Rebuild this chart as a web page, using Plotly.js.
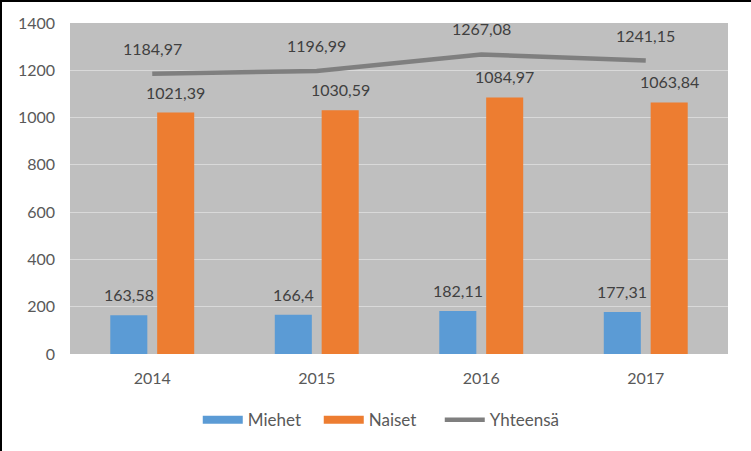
<!DOCTYPE html>
<html>
<head>
<meta charset="utf-8">
<script src="https://cdn.plot.ly/plotly-3.0.1.min.js"></script>
<style>
  html, body { margin: 0; padding: 0; background: #fff; }
  #chart { width: 749px; height: 449px; border-top: 2px solid #000; border-left: 2px solid #000; }
</style>
</head>
<body>
<div id="chart"></div>
<script>
// data
const years = ["2014", "2015", "2016", "2017"];
const miehet = [163.58, 166.4, 182.11, 177.31];
const naiset = [1021.39, 1030.59, 1084.97, 1063.84];
const yhteensa = [1184.97, 1196.99, 1267.08, 1241.15];

const yTicks = [0, 200, 400, 600, 800, 1000, 1200, 1400];

const BLUE = "#5B9BD5";
const ORANGE = "#ED7D31";
const GREY = "#7F7F7F";

// finnish decimal comma
function fmt(v){
    return String(v).replace(".", ",");
}

const labelFont = { family: "Lato, 'Open Sans', sans-serif", size: 16, color: "#404040" };

const data = [
    { type: "bar", x: years, y: miehet, name: "Miehet", marker: { color: BLUE }, showlegend: false },
    { type: "bar", x: years, y: naiset, name: "Naiset", marker: { color: ORANGE }, showlegend: false },
    // legend entries drawn as wide flat swatches like the original
    { type: "scatter", mode: "lines", x: [null], y: [null], name: "Miehet", line: { color: BLUE, width: 8 } },
    { type: "scatter", mode: "lines", x: [null], y: [null], name: "Naiset", line: { color: ORANGE, width: 8 } },
    { type: "scatter", mode: "lines", x: years, y: yhteensa, name: "Yhteensä",
      line: { color: GREY, width: 4.5 } },
];

// data labels, placed over each mark (x is the category index on a category axis)
const annotations = [];
years.forEach((yr, i) => {
    annotations.push({ x: i, y: miehet[i], text: fmt(miehet[i]), xshift: -23.5, yshift: 9,
                       yanchor: "bottom", showarrow: false, font: labelFont });
    annotations.push({ x: i, y: naiset[i], text: fmt(naiset[i]), xshift: 23.5, yshift: 9,
                       yanchor: "bottom", showarrow: false, font: labelFont });
    annotations.push({ x: i, y: yhteensa[i], text: fmt(yhteensa[i]), yshift: 14,
                       yanchor: "bottom", showarrow: false, font: labelFont });
});

const layout = {
    width: 749,
    height: 449,
    paper_bgcolor: "#ffffff",
    plot_bgcolor: "#BFBFBF",
    font: { family: "Lato, 'Open Sans', sans-serif", size: 16, color: "#595959" },
    margin: { t: 21, b: 97, l: 68, r: 23 },
    barmode: "group",
    bargap: 0.43,
    bargroupgap: 0.21,
    xaxis: { type: "category", range: [-0.5, 3.5], showgrid: false, zeroline: false, showline: false,
             ticks: "", ticklabelstandoff: 13 },
    yaxis: { range: [0, 1400], tickvals: yTicks, ticktext: yTicks.map(String),
             gridcolor: "#D9D9D9", gridwidth: 1, zeroline: false, showline: false, ticks: "",
             ticklabelstandoff: 14 },
    showlegend: true,
    legend: {
        orientation: "h",
        x: 0.47, xanchor: "center",
        y: -0.2, yanchor: "middle",
        font: { size: 17, color: "#595959" },
        itemwidth: 40,
        entrywidth: 66,
        entrywidthmode: "pixels",
    },
    annotations: annotations,
};

Plotly.newPlot("chart", data, layout, { staticPlot: true });
</script>
</body>
</html>
